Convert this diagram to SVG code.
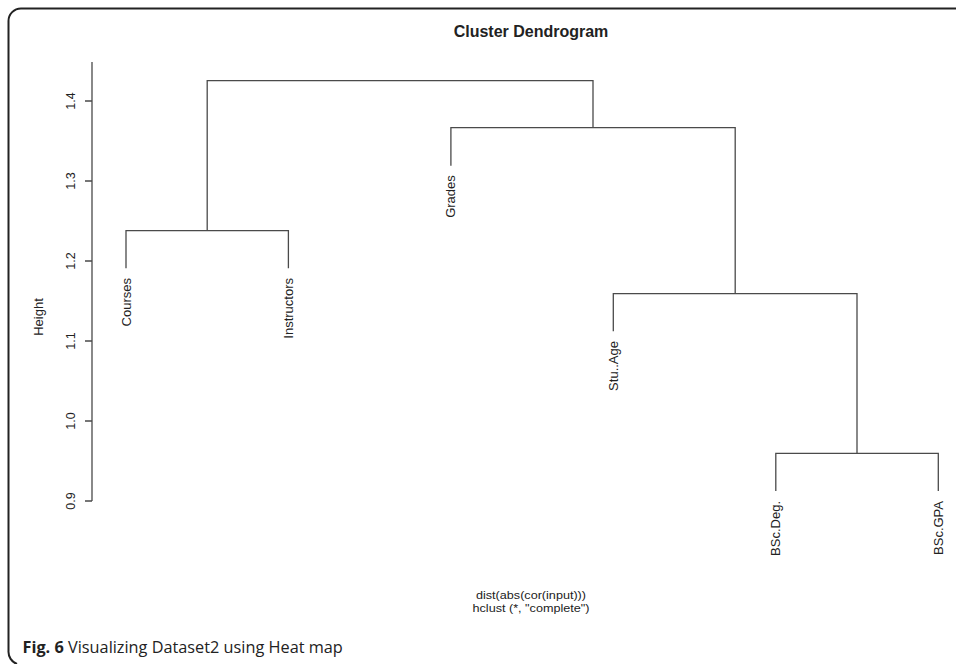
<svg xmlns="http://www.w3.org/2000/svg" width="956" height="664" viewBox="0 0 956 664">
<style>
.ln{stroke:#4a4a4a;stroke-width:1.3;fill:none}
.lab{font-family:"Liberation Sans",Arial,sans-serif;font-size:13px;fill:#222}
.tick{font-family:"Liberation Sans",Arial,sans-serif;font-size:12.5px;fill:#222}
.sub{font-family:"Liberation Sans",Arial,sans-serif;font-size:11.5px;fill:#222}
</style>
<rect width="956" height="664" fill="#fff"/>
<path d="M956,8.5 H21 A12.5,12.5 0 0 0 8.5,21 V651 A13,13 0 0 0 17,664" fill="none" stroke="#222" stroke-width="2"/>
<text x="531" y="36.5" text-anchor="middle" font-family="Liberation Sans, Arial, sans-serif" font-size="16" font-weight="bold" fill="#222">Cluster Dendrogram</text>
<g id="axis">
<path class="ln" d="M92,62 V501 M85,101 H92 M85,181 H92 M85,261 H92 M85,341 H92 M85,421 H92 M85,501 H92"/>
<text class="tick" text-anchor="middle" transform="translate(74.5,101) rotate(-90)">1.4</text>
<text class="tick" text-anchor="middle" transform="translate(74.5,181) rotate(-90)">1.3</text>
<text class="tick" text-anchor="middle" transform="translate(74.5,261) rotate(-90)">1.2</text>
<text class="tick" text-anchor="middle" transform="translate(74.5,341) rotate(-90)">1.1</text>
<text class="tick" text-anchor="middle" transform="translate(74.5,421) rotate(-90)">1.0</text>
<text class="tick" text-anchor="middle" transform="translate(74.5,501) rotate(-90)">0.9</text>
<text class="lab" text-anchor="middle" transform="translate(42.5,317) rotate(-90)">Height</text>
</g>
<g id="connectors">
<path class="ln" d="M207.2,230.7 V80.7 H593 V127.7"/>
<path class="ln" d="M126,268.3 V230.7 H288.4 V268.3"/>
<path class="ln" d="M450.9,165.7 V127.7 H735.2 V293.7"/>
<path class="ln" d="M613.3,331.3 V293.7 H857 V453.3"/>
<path class="ln" d="M775.8,491 V453.3 H938.3 V491"/>
</g>
<g id="node-courses"><text class="lab" text-anchor="end" transform="translate(130.5,278) rotate(-90)">Courses</text></g>
<g id="node-instructors"><text class="lab" text-anchor="end" transform="translate(292.9,278) rotate(-90)">Instructors</text></g>
<g id="node-grades"><text class="lab" text-anchor="end" transform="translate(455.4,175.2) rotate(-90)">Grades</text></g>
<g id="node-stuage"><text class="lab" text-anchor="end" transform="translate(617.8,341) rotate(-90)">Stu..Age</text></g>
<g id="node-bscdeg"><text class="lab" text-anchor="end" transform="translate(780.3,501) rotate(-90)">BSc.Deg.</text></g>
<g id="node-bscgpa"><text class="lab" text-anchor="end" transform="translate(942.8,501) rotate(-90)">BSc.GPA</text></g>
<text class="sub" x="531" y="598.5" text-anchor="middle" textLength="110" lengthAdjust="spacingAndGlyphs">dist(abs(cor(input)))</text>
<text class="sub" x="531" y="612" text-anchor="middle" textLength="117" lengthAdjust="spacingAndGlyphs">hclust (*, "complete")</text>
<text x="22.5" y="653.3" font-family="Open Sans, Noto Sans, sans-serif" font-size="16.3" fill="#222"><tspan font-weight="bold">Fig. 6</tspan> Visualizing Dataset2 using Heat map</text>
</svg>
